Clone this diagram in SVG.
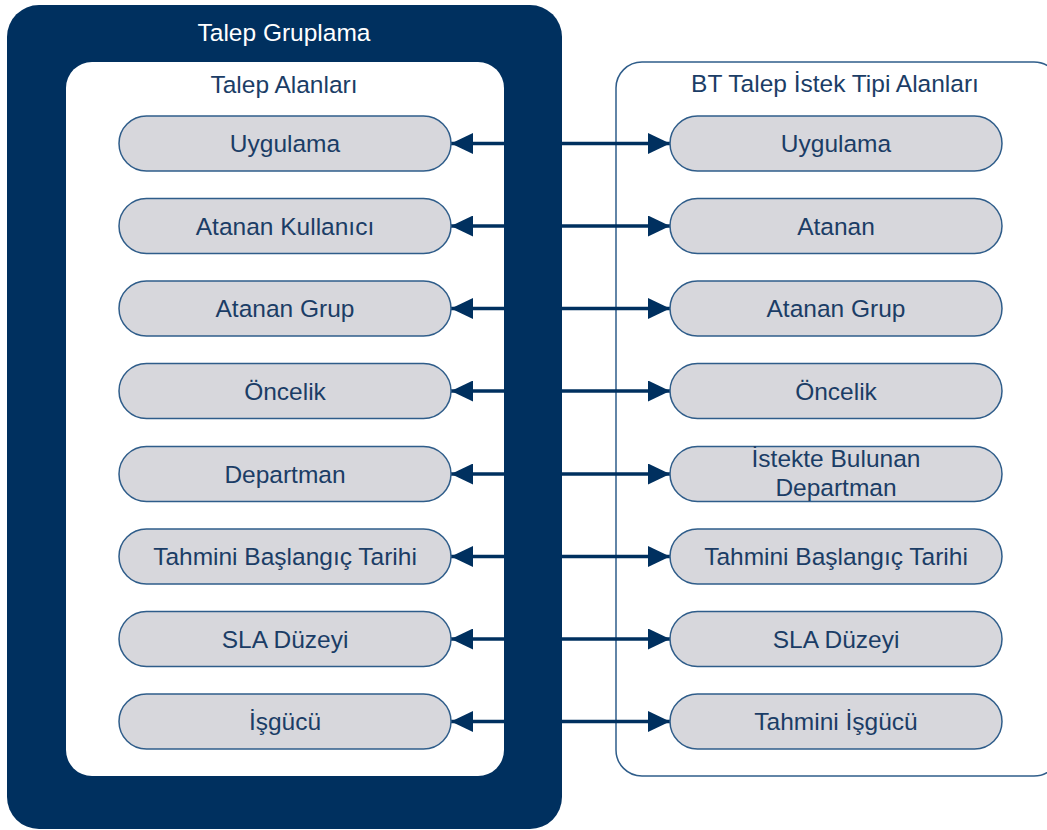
<svg xmlns="http://www.w3.org/2000/svg" width="1047" height="830" viewBox="0 0 1047 830">
<defs>
<marker id="ah" viewBox="0 0 22 21" refX="22" refY="10.5" markerWidth="22" markerHeight="21" markerUnits="userSpaceOnUse" orient="auto">
<path d="M0,0 L22,10.5 L0,21 Z" fill="#00305f"/>
</marker>
<style>
.pill{fill:#d7d7dc;stroke:#2f5d8a;stroke-width:1.5}
.t{font-family:"Liberation Sans",Arial,sans-serif;font-size:24.5px;fill:#1b3d66;text-anchor:middle}
.w{fill:#ffffff}
.c{stroke:#00305f;stroke-width:3.5;fill:none;marker-end:url(#ah)}
</style>
</defs>
<rect width="1047" height="830" fill="#ffffff"/>
<g id="talep-gruplama">
<rect x="7" y="5" width="555" height="824" rx="32" fill="#00305f"/>
<text class="t w" x="284" y="41">Talep Gruplama</text>
</g>
<g id="talep-alanlari">
<rect x="66" y="62" width="438" height="714" rx="26" fill="#ffffff"/>
<text class="t" x="284" y="93">Talep Alanları</text>
</g>
<g id="bt-talep">
<rect x="616" y="62" width="444" height="714" rx="26" fill="#ffffff" stroke="#2f5d8a" stroke-width="1.5"/>
<text class="t" x="835" y="92">BT Talep İstek Tipi Alanları</text>
</g>
<g id="connectors">
<path class="c" d="M505,143.5 H451"/><path class="c" d="M562,143.5 H670"/>
<path class="c" d="M505,226 H451"/><path class="c" d="M562,226 H670"/>
<path class="c" d="M505,308.5 H451"/><path class="c" d="M562,308.5 H670"/>
<path class="c" d="M505,391 H451"/><path class="c" d="M562,391 H670"/>
<path class="c" d="M505,474 H451"/><path class="c" d="M562,474 H670"/>
<path class="c" d="M505,556.5 H451"/><path class="c" d="M562,556.5 H670"/>
<path class="c" d="M505,639 H451"/><path class="c" d="M562,639 H670"/>
<path class="c" d="M505,721.5 H451"/><path class="c" d="M562,721.5 H670"/>
</g>
<g id="l1"><rect class="pill" x="119" y="116" width="332" height="55" rx="27.5"/><text class="t" x="285" y="152">Uygulama</text></g>
<g id="l2"><rect class="pill" x="119" y="198.5" width="332" height="55" rx="27.5"/><text class="t" x="285" y="234.5">Atanan Kullanıcı</text></g>
<g id="l3"><rect class="pill" x="119" y="281" width="332" height="55" rx="27.5"/><text class="t" x="285" y="317">Atanan Grup</text></g>
<g id="l4"><rect class="pill" x="119" y="363.5" width="332" height="55" rx="27.5"/><text class="t" x="285" y="399.5">Öncelik</text></g>
<g id="l5"><rect class="pill" x="119" y="446.5" width="332" height="55" rx="27.5"/><text class="t" x="285" y="482.5">Departman</text></g>
<g id="l6"><rect class="pill" x="119" y="529" width="332" height="55" rx="27.5"/><text class="t" x="285" y="565">Tahmini Başlangıç Tarihi</text></g>
<g id="l7"><rect class="pill" x="119" y="611.5" width="332" height="55" rx="27.5"/><text class="t" x="285" y="647.5">SLA Düzeyi</text></g>
<g id="l8"><rect class="pill" x="119" y="694" width="332" height="55" rx="27.5"/><text class="t" x="285" y="730">İşgücü</text></g>
<g id="r1"><rect class="pill" x="670" y="116" width="332" height="55" rx="27.5"/><text class="t" x="836" y="152">Uygulama</text></g>
<g id="r2"><rect class="pill" x="670" y="198.5" width="332" height="55" rx="27.5"/><text class="t" x="836" y="234.5">Atanan</text></g>
<g id="r3"><rect class="pill" x="670" y="281" width="332" height="55" rx="27.5"/><text class="t" x="836" y="317">Atanan Grup</text></g>
<g id="r4"><rect class="pill" x="670" y="363.5" width="332" height="55" rx="27.5"/><text class="t" x="836" y="399.5">Öncelik</text></g>
<g id="r5"><rect class="pill" x="670" y="446.5" width="332" height="55" rx="27.5"/><text class="t" x="836" y="467">İstekte Bulunan</text><text class="t" x="836" y="496">Departman</text></g>
<g id="r6"><rect class="pill" x="670" y="529" width="332" height="55" rx="27.5"/><text class="t" x="836" y="565">Tahmini Başlangıç Tarihi</text></g>
<g id="r7"><rect class="pill" x="670" y="611.5" width="332" height="55" rx="27.5"/><text class="t" x="836" y="647.5">SLA Düzeyi</text></g>
<g id="r8"><rect class="pill" x="670" y="694" width="332" height="55" rx="27.5"/><text class="t" x="836" y="730">Tahmini İşgücü</text></g>
</svg>
